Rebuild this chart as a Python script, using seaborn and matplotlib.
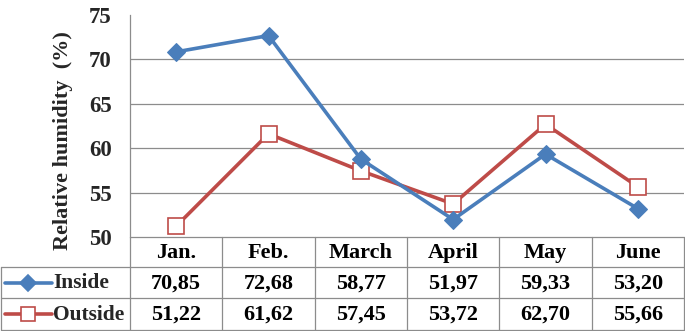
import matplotlib
matplotlib.use("Agg")
import matplotlib.pyplot as plt
from matplotlib.lines import Line2D
import seaborn as sns
import pandas as pd

months = ["Jan.", "Feb.", "March", "April", "May", "June"]
inside = [70.85, 72.68, 58.77, 51.97, 59.33, 53.20]
outside = [51.22, 61.62, 57.45, 53.72, 62.70, 55.66]
series_names = ["Inside", "Outside"]
y_ticks = [50, 55, 60, 65, 70, 75]

BLUE = "#4A7EBB"
RED = "#BE4B48"
GRID = "#8C8C8C"
FONT = "Liberation Serif"

sns.set_theme(style="white")
plt.rcParams["font.family"] = [FONT, "DejaVu Serif"]

W, H = 685, 331
fig = plt.figure(figsize=(W / 100, H / 100), dpi=100)

def fx(px):
    return px / W

def fy(py):
    return 1 - py / H

# plot area in pixel coordinates
L, R, T, B = 130, 684, 15, 237
ax = fig.add_axes([fx(L), fy(B), fx(R - L), (B - T) / H])

df = pd.DataFrame({"month": list(range(len(months))) * 2,
                   "value": inside + outside,
                   "series": [series_names[0]] * len(months) + [series_names[1]] * len(months)})

sns.lineplot(data=df[df.series == "Inside"], x="month", y="value", ax=ax,
             color=BLUE, lw=2.6, marker="D", markersize=9.5,
             markeredgecolor=BLUE, markerfacecolor=BLUE, legend=False, zorder=4)
sns.lineplot(data=df[df.series == "Outside"], x="month", y="value", ax=ax,
             color=RED, lw=2.6, marker="s", markersize=11,
             markeredgecolor=RED, markerfacecolor="white", markeredgewidth=1.2,
             legend=False, zorder=3)

ax.set_xlim(-0.5, len(months) - 0.5)
ax.set_ylim(50, 75)
ax.set_yticks(y_ticks)
ax.set_xticks([])
for y in y_ticks[1:-1]:
    ax.axhline(y, color=GRID, lw=0.9, zorder=1)
for s in ["top", "right", "bottom"]:
    ax.spines[s].set_visible(False)
ax.spines["left"].set_color(GRID)
ax.spines["left"].set_linewidth(0.9)
ax.tick_params(axis="y", length=0, pad=13, labelsize=16.5)
for lab in ax.get_yticklabels():
    lab.set_fontweight("bold")
    lab.set_fontfamily(FONT)
ax.set_xlabel("")
ax.set_ylabel("")
ax.patch.set_alpha(0)

fig.text(fx(63), fy(141), "Relative humidity  (%)", rotation=90, fontsize=16,
         fontweight="bold", fontfamily=FONT, ha="center", va="center")

# ---- data table ----
rows_y = [237, 267, 298, 330]
col_x = [L + i * (R - L) / len(months) for i in range(len(months) + 1)]

def hline(y, x0, x1):
    fig.add_artist(Line2D([fx(x0), fx(x1)], [fy(y), fy(y)], color=GRID, lw=0.9))

def vline(x, y0, y1):
    fig.add_artist(Line2D([fx(x), fx(x)], [fy(y0), fy(y1)], color=GRID, lw=0.9))

hline(rows_y[0], L, R)
for y in rows_y[1:]:
    hline(y, 1, R)
for x in col_x:
    vline(x, rows_y[0], rows_y[3])
vline(1, rows_y[1], rows_y[3])

txt = dict(fontsize=16, fontweight="bold", fontfamily=FONT, color="black",
           ha="center", va="center")
for i, m in enumerate(months):
    cx = (col_x[i] + col_x[i + 1]) / 2
    fig.text(fx(cx), fy((rows_y[0] + rows_y[1]) / 2 + 1), m, **txt)
    fig.text(fx(cx), fy((rows_y[1] + rows_y[2]) / 2 + 1),
             f"{inside[i]:.2f}".replace(".", ","), **txt)
    fig.text(fx(cx), fy((rows_y[2] + rows_y[3]) / 2 + 1),
             f"{outside[i]:.2f}".replace(".", ","), **txt)

# row headers with legend keys
for j, (name, col, mk, fc, ms) in enumerate([
        (series_names[0], BLUE, "D", BLUE, 8.5),
        (series_names[1], RED, "s", "white", 10)]):
    yc = (rows_y[j + 1] + rows_y[j + 2]) / 2
    fig.add_artist(Line2D([fx(5), fx(52)], [fy(yc), fy(yc)], color=col, lw=2.6))
    fig.add_artist(Line2D([fx(28)], [fy(yc)], color=col, marker=mk, markersize=ms,
                          markerfacecolor=fc, markeredgecolor=col, markeredgewidth=1.2))
    fig.text(fx(53), fy(yc + 1), name, fontsize=15.5, fontweight="bold",
             fontfamily=FONT, ha="left", va="center")

fig.savefig("out.png", dpi=100)
